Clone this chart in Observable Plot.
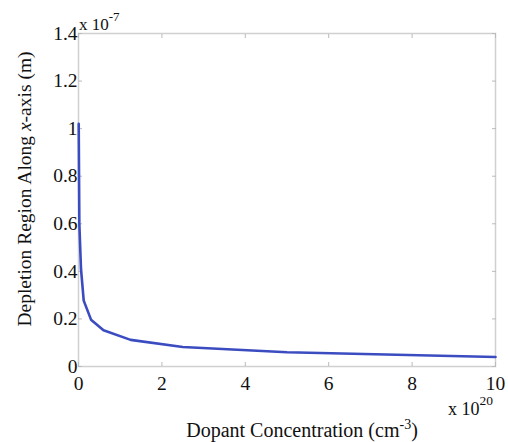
<!DOCTYPE html>
<html><head><meta charset="utf-8">
<script src="https://cdn.jsdelivr.net/npm/d3@7"></script>
<script src="https://cdn.jsdelivr.net/npm/@observablehq/plot@0.6"></script>
<style>
body{margin:0;background:#fff;}
svg, svg text{font-family:"Liberation Serif","Times New Roman",serif !important;}
</style>
</head><body><div id="chart"></div>
<script>
// Dopant concentration in units of 1e20 cm^-3
const concentration = [0.005, 0.02, 0.06, 0.125, 0.3, 0.6, 1.25, 2.5, 5, 10];
// Depletion width in units of 1e-7 m
const depletion = [1.02, 0.6, 0.41, 0.277, 0.197, 0.152, 0.112, 0.082, 0.060, 0.040];
const xTicks = [0, 2, 4, 6, 8, 10];
const yTicks = [0, 0.2, 0.4, 0.6, 0.8, 1, 1.2, 1.4];

const data = concentration.map((x, i) => ({x, y: depletion[i]}));

const W = 508, H = 442;
const serif = "'Liberation Serif', 'Times New Roman', serif";
const plot = Plot.plot({
  width: W, height: H,
  marginLeft: 78, marginRight: 13, marginTop: 33, marginBottom: 76,
  style: {fontFamily: serif, fontSize: "19px", background: "#fff", overflow: "visible"},
  x: {domain: [0, 10], ticks: xTicks},
  y: {domain: [0, 1.4], ticks: yTicks},
  marks: [
    Plot.frame({stroke: "#d0d0d0", strokeWidth: 1.5}),
    Plot.axisX({anchor: "bottom", ticks: xTicks, tickSize: -4, tickPadding: 14, label: null, stroke: "#bbb", fill: "#111", fontFamily: serif, fontSize: 19.5, tickFormat: d => String(d)}),
    Plot.axisX({anchor: "top", ticks: xTicks, tickSize: -4, tickFormat: () => "", label: null, stroke: "#bbb"}),
    Plot.axisY({anchor: "left", ticks: yTicks, tickSize: -4, tickPadding: 5, label: null, stroke: "#bbb", fill: "#111", fontFamily: serif, fontSize: 19.5, tickFormat: d => String(d)}),
    Plot.axisY({anchor: "right", ticks: yTicks, tickSize: -4, tickFormat: () => "", label: null, stroke: "#bbb"}),
    Plot.line(data, {x: "x", y: "y", stroke: "#3b4cc0", strokeWidth: 2.6})
  ]
});
document.getElementById("chart").appendChild(plot);

const svg = d3.select(plot);
// y exponent
const t1 = svg.append("text").attr("x", 79).attr("y", 30).attr("text-anchor", "start").attr("font-family", serif).attr("font-size", 17).attr("fill", "#111");
t1.append("tspan").text("x 10");
t1.append("tspan").attr("font-size", 13).attr("dy", -9).text("-7");
// x exponent
const t2 = svg.append("text").attr("x", 448).attr("y", 415).attr("text-anchor", "start").attr("font-family", serif).attr("font-size", 18).attr("fill", "#111");
t2.append("tspan").text("x 10");
t2.append("tspan").attr("font-size", 13.5).attr("dy", -10).text("20");
// x label
const t3 = svg.append("text").attr("x", 302).attr("y", 437).attr("text-anchor", "middle").attr("font-family", serif).attr("font-size", 20).attr("fill", "#111");
t3.append("tspan").text("Dopant Concentration (cm");
t3.append("tspan").attr("font-size", 14).attr("dy", -8).text("-3");
t3.append("tspan").attr("dy", 8).text(")");
// y label
const t4 = svg.append("text").attr("transform", "translate(31,189) rotate(-90)").attr("text-anchor", "middle").attr("font-family", serif).attr("font-size", 19.5).attr("fill", "#111");
t4.append("tspan").text("Depletion Region Along ");
t4.append("tspan").attr("font-style", "italic").text("x");
t4.append("tspan").text("-axis (m)");
</script>
</body></html>
